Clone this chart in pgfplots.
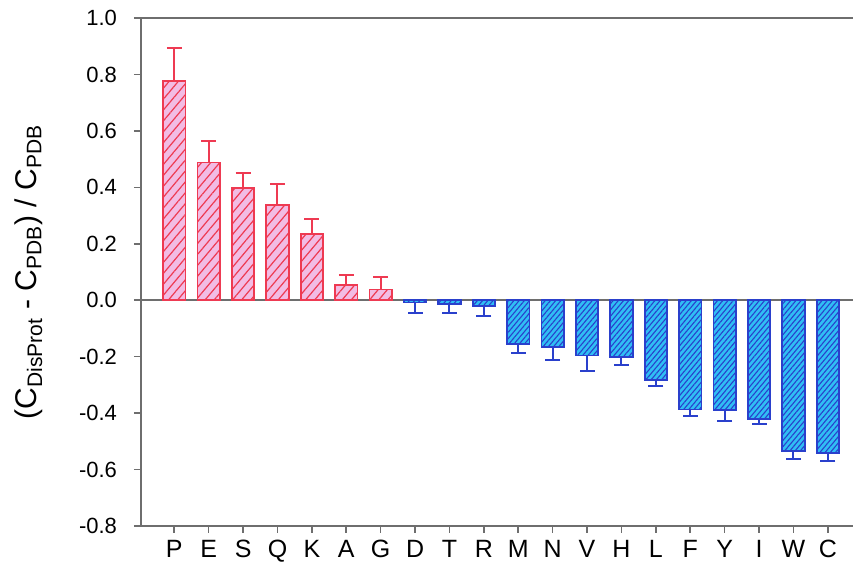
\documentclass[border=0pt]{standalone}
\usepackage{fontspec}
\setmainfont{Liberation Sans}
\usepackage{pgfplots}
\pgfplotsset{compat=1.18}
\usepackage{pgfplotstable}
\usetikzlibrary{patterns.meta}
\definecolor{pinkfill}{HTML}{F2BCE4}
\definecolor{pinkedge}{HTML}{EE3A52}
\definecolor{bluefill}{HTML}{30BEF4}
\definecolor{blueedge}{HTML}{2A40CC}
\definecolor{axgray}{HTML}{6E6E6E}

\pgfplotstableread{
x y e
0 0.776 0.116
1 0.488 0.077
2 0.398 0.053
3 0.336 0.076
4 0.234 0.055
5 0.053 0.036
6 0.038 0.043
}\pinkdata
\pgfplotstableread{
x y e
7 -0.008 0.039
8 -0.012 0.033
9 -0.021 0.035
10 -0.154 0.032
11 -0.166 0.046
12 -0.196 0.055
13 -0.200 0.028
14 -0.283 0.021
15 -0.387 0.023
16 -0.390 0.037
17 -0.420 0.017
18 -0.535 0.029
19 -0.540 0.030
}\bluedata

\begin{document}
\begin{tikzpicture}
\begin{axis}[
  at={(70.5pt,25.5pt)}, anchor=south west,
  scale only axis, width=356pt, height=254pt,
  xmin=-0.968, xmax=19.73, ymin=-0.8, ymax=1.0,
  axis x line*=box, axis y line*=left,
  xtick pos=left, ytick pos=left,
  axis line style={axgray, line width=1pt},
  tick align=outside, major tick length=3.5pt,
  tick style={axgray, line width=0.8pt},
  xtick={0,...,19},
  xticklabels={P,E,S,Q,K,A,G,D,T,R,M,N,V,H,L,F,Y,I,W,C},
  ytick={-0.8,-0.6,...,1.0},
  yticklabel style={/pgf/number format/fixed, /pgf/number format/fixed zerofill, /pgf/number format/precision=1},
  /pgf/number format/assume math mode=true,
  yticklabel style={font=\fontsize{11}{13}\selectfont, xshift=-5pt},
  xticklabel style={font=\fontsize{12.5}{14}\selectfont},
  ylabel={(C\textsubscript{DisProt} - C\textsubscript{PDB}) / C\textsubscript{PDB}},
  every axis y label/.style={at={(rel axis cs:0,0.5)}, xshift=-56pt, rotate=90, anchor=center, font=\fontsize{15}{17}\selectfont},
  clip=false,
]
\draw[axgray, line width=0.9pt] ({rel axis cs:0,0}|-{axis cs:0,0}) -- ({rel axis cs:1,0}|-{axis cs:0,0});
\addplot[ybar, bar width=0.65, bar shift=0pt, draw=pinkedge, line width=0.9pt, fill=pinkfill,
  postaction={pattern={Lines[angle=50,distance=3.5pt,line width=0.6pt]}, pattern color=pinkedge},
  error bars/.cd, y dir=plus, y explicit,
  error bar style={draw=pinkedge, line width=1pt},
  error mark options={draw=pinkedge, line width=1pt, mark size=3.75pt, rotate=90}]
  table[x=x, y=y, y error=e] {\pinkdata};
\addplot[ybar, bar width=0.65, bar shift=0pt, draw=blueedge, line width=0.9pt, fill=bluefill,
  postaction={pattern={Lines[angle=50,distance=2pt,line width=0.55pt]}, pattern color=blueedge},
  error bars/.cd, y dir=minus, y explicit,
  error bar style={draw=blueedge, line width=1pt},
  error mark options={draw=blueedge, line width=1pt, mark size=3.75pt, rotate=90}]
  table[x=x, y=y, y error=e] {\bluedata};
\end{axis}
\pgfresetboundingbox
\path[use as bounding box] (0,0) rectangle (426.5pt,288.5pt);
\end{tikzpicture}
\end{document}
